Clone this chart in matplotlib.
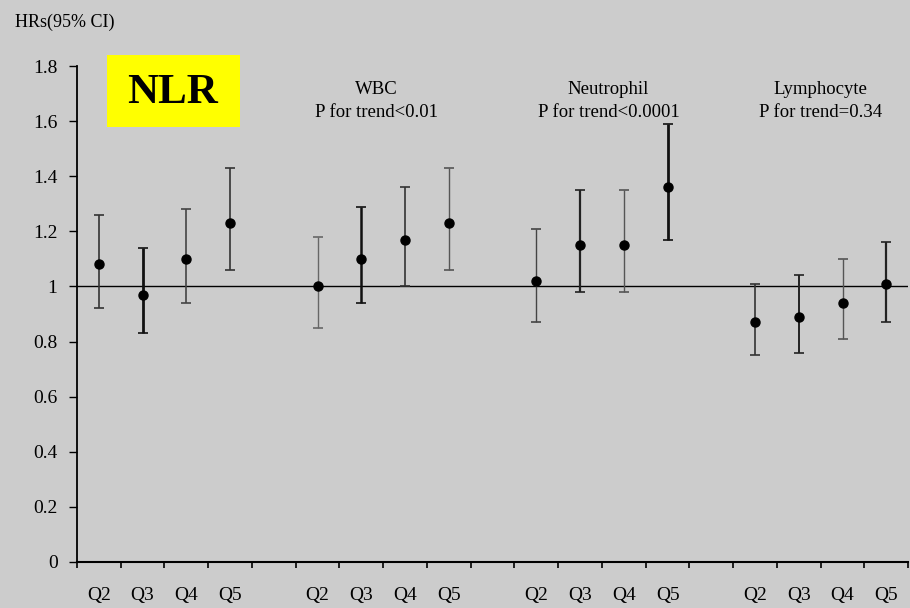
import numpy as np
import matplotlib
matplotlib.use('Agg')
import matplotlib.pyplot as plt

plt.rcParams['font.family'] = ['Liberation Serif', 'DejaVu Serif']

# valeurs
groups = ['NLR', 'WBC', 'Neutrophil', 'Lymphocyte']
titles = ['', 'WBC\nP for trend<0.01', 'Neutrophil\nP for trend<0.0001', 'Lymphocyte\nP for trend=0.34']
quintiles = ['Q2', 'Q3', 'Q4', 'Q5']

hr = [[1.08, 0.97, 1.10, 1.23],
      [1.00, 1.10, 1.17, 1.23],
      [1.02, 1.15, 1.15, 1.36],
      [0.87, 0.89, 0.94, 1.01]]
ci_low = [[0.92, 0.83, 0.94, 1.06],
          [0.85, 0.94, 1.00, 1.06],
          [0.87, 0.98, 0.98, 1.17],
          [0.75, 0.76, 0.81, 0.87]]
ci_high = [[1.26, 1.14, 1.28, 1.43],
           [1.18, 1.29, 1.36, 1.43],
           [1.21, 1.35, 1.35, 1.59],
           [1.01, 1.04, 1.10, 1.16]]

# epaisseur / teinte des barres (image d'origine un peu baveuse)
bar_lw = [[1.2, 2.0, 1.2, 1.2],
          [1.0, 1.8, 1.2, 1.0],
          [1.0, 1.6, 1.0, 2.0],
          [1.2, 1.4, 1.0, 1.6]]
bar_col = [['#333333', '#111111', '#444444', '#333333'],
           ['#666666', '#111111', '#333333', '#555555'],
           ['#444444', '#222222', '#555555', '#111111'],
           ['#333333', '#222222', '#555555', '#222222']]
title_dx = [0, -0.15, 0.15, 0.0]  # decalage horizontal des titres

bg = '#cccccc'
fig = plt.figure(figsize=(9.10, 6.08), dpi=100, facecolor=bg)
ax = fig.add_axes([0.0846, 0.0757, 0.9134, 0.8157], facecolor=bg)

# positions: 4 groupes de 4 avec un espace vide entre eux
xlabels = []
pos = 0
for g in range(len(groups)):
    xs = np.arange(pos, pos + 4)
    for k in range(4):
        x = xs[k]
        ax.errorbar(x, hr[g][k],
                    yerr=[[hr[g][k] - ci_low[g][k]], [ci_high[g][k] - hr[g][k]]],
                    fmt='o', color='black', ms=6.5, ecolor=bar_col[g][k],
                    elinewidth=bar_lw[g][k], capsize=3.5, capthick=1.2, zorder=3)
    xlabels += quintiles
    if titles[g]:
        ax.text(xs.mean() + title_dx[g], 1.672, titles[g], ha='center', va='center',
                fontsize=13.5, linespacing=1.45)
    pos += 4
    if g < len(groups) - 1:
        xlabels.append('')
        pos += 1

n = len(xlabels)
ax.axhline(1.0, color='black', lw=1.0, zorder=1)

ax.set_xlim(-0.5, n - 0.5)
ax.set_ylim(0, 1.8)
ax.set_xticks(np.arange(n))
ax.set_xticklabels(xlabels, fontsize=14)
ax.set_xticks(np.arange(n + 1) - 0.5, minor=True)
ax.tick_params(axis='x', which='major', length=0, pad=18)
ax.tick_params(axis='x', which='minor', length=4, width=1.2, direction='out')
ax.set_yticks(np.arange(0, 1.81, 0.2))
ax.set_yticklabels(['0', '0.2', '0.4', '0.6', '0.8', '1', '1.2', '1.4', '1.6', '1.8'], fontsize=14)
ax.tick_params(axis='y', length=6, width=1.0, direction='out', pad=8)

for s in ['top', 'right']:
    ax.spines[s].set_visible(False)
ax.spines['left'].set_linewidth(1.3)
ax.spines['bottom'].set_linewidth(1.5)

fig.text(15 / 910, 1 - 22 / 608, 'HRs(95% CI)', fontsize=13, ha='left', va='center')

# etiquette NLR sur fond jaune
fig.patches.append(plt.Rectangle((107 / 910, 1 - 127 / 608), 133 / 910, 72 / 608,
                                 transform=fig.transFigure, facecolor='#ffff00',
                                 edgecolor='none', zorder=5))
fig.text(173 / 910, 1 - 93 / 608, 'NLR', fontsize=31, fontweight='bold',
         ha='center', va='center', zorder=6)

fig.savefig('out.png', dpi=100, facecolor=bg)
